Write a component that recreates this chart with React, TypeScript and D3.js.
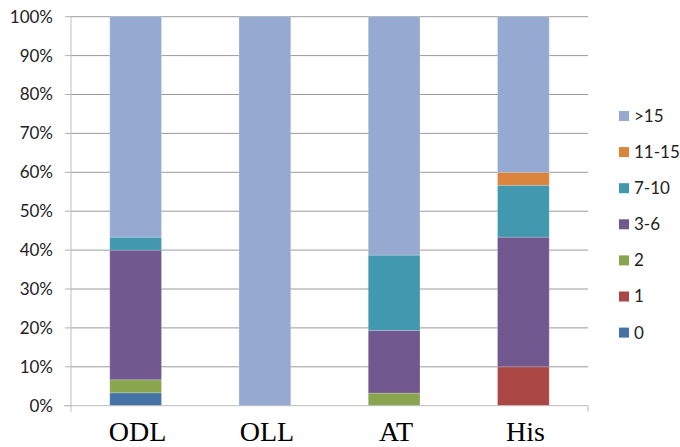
import React from "react";
import * as d3 from "d3";

const categories = ["ODL", "OLL", "AT", "His"];
const seriesNames = ["0", "1", "2", "3-6", "7-10", "11-15", ">15"];
const seriesColors = ["#4572A7", "#AA4643", "#89A54E", "#71588F", "#4198AF", "#DB843D", "#95A9D1"];
// percentage values per category (order: ODL, OLL, AT, His)
const s0 = [3.33, 0, 0, 0];
const s1 = [0, 0, 0, 10];
const s2 = [3.33, 0, 3.23, 0];
const s36 = [33.33, 0, 16.13, 33.33];
const s710 = [3.33, 0, 19.35, 13.33];
const s1115 = [0, 0, 0, 3.33];
const s15 = [56.68, 100, 61.29, 40.01];
const yTicks = [0, 10, 20, 30, 40, 50, 60, 70, 80, 90, 100];

export default function App() {
  const W = 680, H = 447;
  const left = 71, right = 588, top = 16.7, bottom = 405.7;
  const x = d3.scaleBand().domain(categories).range([left, right]).paddingInner(0.6).paddingOuter(0.3);
  const y = d3.scaleLinear().domain([0, 100]).range([bottom, top]);
  const seriesData = [s0, s1, s2, s36, s710, s1115, s15];
  const rows = categories.map((c, i) => {
    const r: any = { cat: c };
    seriesNames.forEach((s, j) => (r[s] = seriesData[j][i]));
    return r;
  });
  const stacked = d3.stack().keys(seriesNames)(rows);
  const legendNames = seriesNames.slice().reverse();
  const legendColors = seriesColors.slice().reverse();
  return (
    <svg width={W} height={H} style={{ position: "absolute", left: 0, top: 0 }}>
      <rect width={W} height={H} fill="#fff" />
      {yTicks.slice(1).map((t) => (
        <line key={t} x1={left} x2={right} y1={y(t)} y2={y(t)} stroke="#9a9a9a" strokeWidth={1} />
      ))}
      {yTicks.map((t) => (
        <line key={"tk" + t} x1={left - 6} x2={left} y1={y(t)} y2={y(t)} stroke="#b0b0b0" strokeWidth={1} />
      ))}
      {yTicks.map((t) => (
        <text key={"l" + t} x={53} y={y(t)} dy="0.35em" textAnchor="end" fontFamily="Lato, 'Open Sans', sans-serif" fontSize={17} fill="#222">
          {t + "%"}
        </text>
      ))}
      {stacked.map((layer, j) =>
        layer.map((d, i) => {
          const h = y(d[0]) - y(d[1]);
          if (h <= 0) return null;
          return (
            <rect
              key={j + "-" + i}
              x={x(categories[i])}
              y={y(d[1])}
              width={x.bandwidth()}
              height={h}
              fill={seriesColors[j]}
              stroke="#ffffff"
              strokeOpacity={0.2}
              strokeWidth={1}
            />
          );
        })
      )}
      <line x1={left} x2={left} y1={top} y2={bottom + 6} stroke="#bdbdbd" strokeWidth={1} />
      <line x1={left - 7} x2={right} y1={bottom} y2={bottom} stroke="#bdbdbd" strokeWidth={1} />
      <line x1={right} x2={right} y1={bottom} y2={bottom + 6} stroke="#bdbdbd" strokeWidth={1} />
      {categories.map((c) => (
        <text key={c} x={(x(c) as number) + x.bandwidth() / 2 + 2} y={441} textAnchor="middle" fontFamily="'Liberation Serif', 'Times New Roman', serif" fontSize={28} fill="#000">
          {c}
        </text>
      ))}
      {legendNames.map((n, i) => {
        const cy = 116 + i * 36.1;
        return (
          <g key={n}>
            <rect x={619} y={cy - 5} width={10} height={10} fill={legendColors[i]} />
            <text x={634} y={cy} dy="0.35em" fontFamily="Lato, 'Open Sans', sans-serif" fontSize={17} fill="#222">
              {n}
            </text>
          </g>
        );
      })}
    </svg>
  );
}
